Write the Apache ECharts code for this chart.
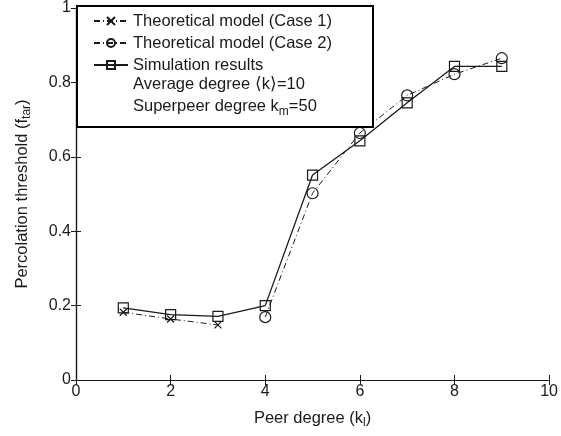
<!DOCTYPE html>
<html>
<head>
<meta charset="utf-8">
<script src="https://cdn.jsdelivr.net/npm/echarts@6/dist/echarts.min.js"></script>
<style>
  html, body { margin: 0; padding: 0; background: #fff; }
  #main { width: 561px; height: 436px; }
</style>
</head>
<body>
<div id="main"></div>
<script>
// 数据
var xTicks = [0, 2, 4, 6, 8, 10]
var yTicks = [0, 0.2, 0.4, 0.6, 0.8, 1]

var case1X = [1, 2, 3]
var case1Y = [0.182, 0.164, 0.148]

var case2X = [4, 5, 6, 7, 8, 9]
var case2Y = [0.169, 0.502, 0.664, 0.765, 0.822, 0.865]

var simX = [1, 2, 3, 4, 5, 6, 7, 8, 9]
var simY = [0.194, 0.176, 0.171, 0.2, 0.551, 0.643, 0.745, 0.843, 0.843]

var pairs = function(xs, ys) {
    return xs.map(function(x, i) { return [x, ys[i]] })
}

var font = 'Liberation Sans, Arial, sans-serif'
var ink = '#1a1a1a'
var crossPath = 'path://M0,0L10,10M10,0L0,10'

var subRich = {
    sub: { fontSize: 12, fontFamily: font, color: ink, padding: [10, 0, 0, 0] }
}

var myChart = echarts.init(document.querySelector('#main'))

var axisBase = {
    min: 0,
    axisLine: { lineStyle: { color: ink, width: 1.2 } },
    axisTick: { inside: true, length: 5, lineStyle: { color: ink } },
    splitLine: { show: false }
}

var option = {
    animation: false,
    backgroundColor: '#fff',
    grid: { left: 76, right: 8, top: 5, bottom: 56, containLabel: false },
    legend: {
        orient: 'vertical',
        left: 88,
        top: 5,
        itemWidth: 34,
        itemHeight: 10,
        itemGap: 0,
        z: 10,
        textStyle: { fontFamily: font, fontSize: 16.5, color: ink, lineHeight: 22 },
        data: ['Theoretical model (Case 1)', 'Theoretical model (Case 2)', 'Simulation results']
    },
    graphic: [
        {
            type: 'rect', z: 5,
            shape: { x: 77, y: 6, width: 296, height: 121 },
            style: { fill: '#fff', stroke: '#000', lineWidth: 2 }
        },
        {
            type: 'text', z: 10, left: 133, top: 76,
            style: { text: 'Average degree \u27e8k\u27e9=10', font: '16.5px ' + font, fill: ink }
        },
        {
            type: 'text', z: 10, left: 133, top: 98,
            style: {
                text: 'Superpeer degree k{sub|m}=50',
                font: '16.5px ' + font, fill: ink,
                rich: subRich
            }
        }
    ],
    xAxis: [
        Object.assign({}, axisBase, {
            type: 'value', max: 10, interval: 2, position: 'bottom',
            name: 'Peer degree (k{sub|l})',
            nameLocation: 'middle', nameGap: 27,
            nameTextStyle: { fontFamily: font, fontSize: 16.5, color: ink, rich: subRich },
            axisLabel: { fontFamily: font, fontSize: 16, color: ink, margin: 4 }
        }),
        Object.assign({}, axisBase, {
            type: 'value', max: 10, interval: 2, position: 'top',
            axisLabel: { show: false }
        })
    ],
    yAxis: [
        Object.assign({}, axisBase, {
            type: 'value', max: 1, interval: 0.2, position: 'left',
            name: 'Percolation threshold (f{sub|tar})',
            nameLocation: 'middle', nameGap: 43,
            nameTextStyle: { fontFamily: font, fontSize: 16.5, color: ink, rich: subRich },
            axisLabel: { fontFamily: font, fontSize: 16, color: ink, margin: 5 }
        }),
        Object.assign({}, axisBase, {
            type: 'value', max: 1, interval: 0.2, position: 'right',
            axisLabel: { show: false }
        })
    ],
    series: [
        {
            name: 'Theoretical model (Case 1)',
            type: 'line',
            data: pairs(case1X, case1Y),
            symbol: crossPath,
            symbolSize: 7,
            lineStyle: { color: ink, width: 1, type: [6, 3, 1, 3] },
            itemStyle: { color: 'rgba(0,0,0,0)', borderColor: ink, borderWidth: 1.2 }
        },
        {
            name: 'Theoretical model (Case 2)',
            type: 'line',
            data: pairs(case2X, case2Y),
            symbol: 'circle',
            symbolSize: 11,
            lineStyle: { color: ink, width: 1, type: [6, 3, 1, 3] },
            itemStyle: { color: 'rgba(0,0,0,0)', borderColor: ink, borderWidth: 1.2 }
        },
        {
            name: 'Simulation results',
            type: 'line',
            data: pairs(simX, simY),
            symbol: 'rect',
            symbolSize: 10,
            lineStyle: { color: ink, width: 1.3 },
            itemStyle: { color: 'rgba(0,0,0,0)', borderColor: ink, borderWidth: 1.2 }
        }
    ]
}

myChart.setOption(option)
</script>
</body>
</html>
